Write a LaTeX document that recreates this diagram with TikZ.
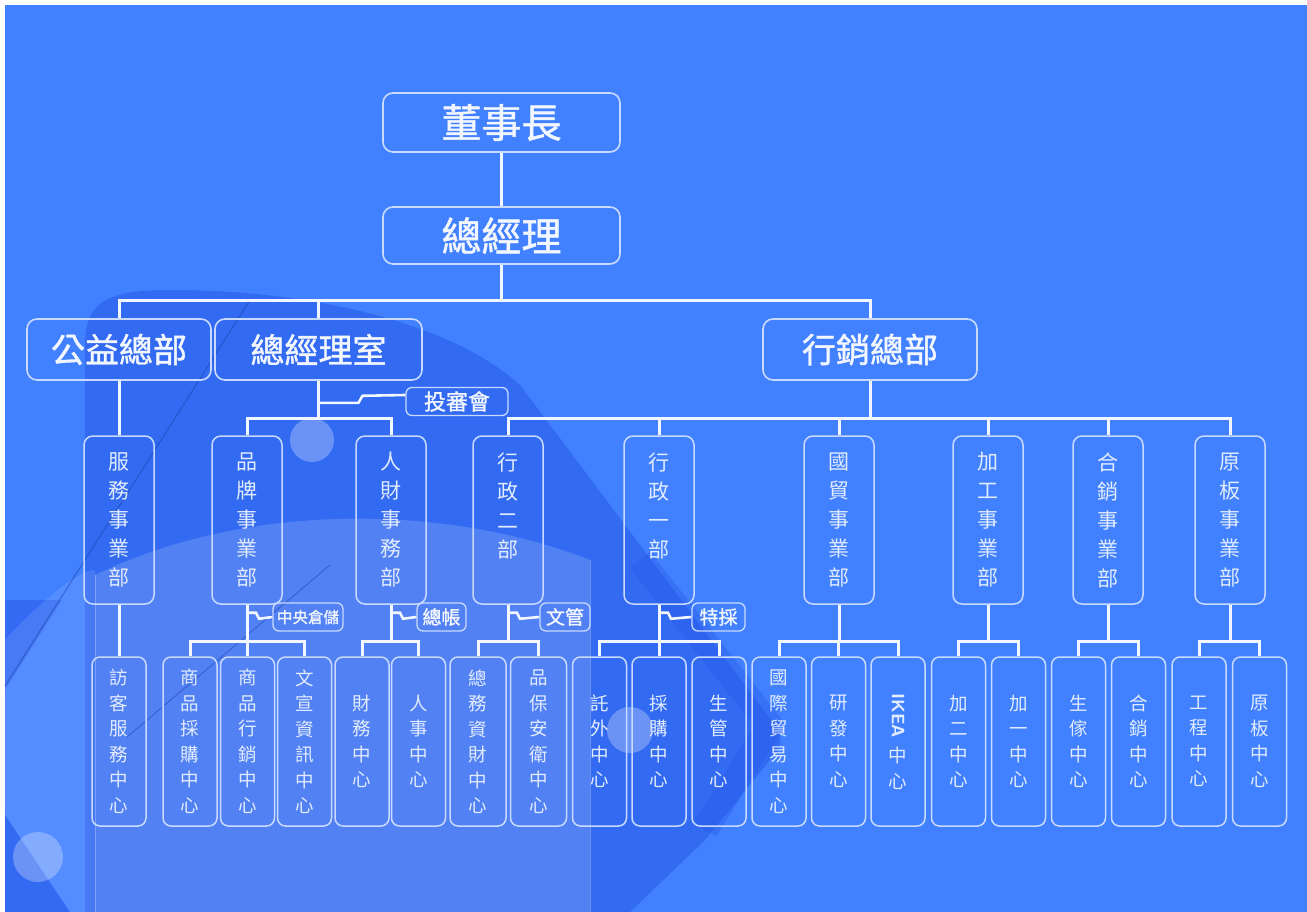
\documentclass[tikz,border=0pt]{standalone}
\usepackage{fontspec}
\newfontfamily\cjk{Noto Sans CJK TC}
\newfontfamily\cjkb[FakeBold=1.2]{Noto Sans CJK TC}
\usetikzlibrary{calc}
\definecolor{bgblue}{RGB}{65,129,255}
\definecolor{darkband}{RGB}{38,88,232}
\definecolor{boxline}{RGB}{200,218,255}
\definecolor{conncol}{RGB}{242,246,255}
\definecolor{txt}{RGB}{242,246,255}
\definecolor{vtxt}{RGB}{226,236,255}
\begin{document}
\begin{tikzpicture}[x=1pt,y=-1pt,
  topbox/.style={draw=boxline, line width=1.6pt, rounded corners=10pt, text=txt, inner sep=0pt, font=\cjkb\fontsize{34}{34}\selectfont},
  lvthree/.style={draw=boxline, line width=1.5pt, rounded corners=9pt, minimum width=70pt, minimum height=168pt, inner sep=0pt, text=vtxt, align=center, font=\cjk\fontsize{21}{29}\selectfont},
  lvfour/.style={draw=boxline, line width=1.5pt, rounded corners=8pt, minimum width=54pt, minimum height=169pt, inner sep=0pt, text=vtxt, align=center, font=\cjk\fontsize{18.5}{25.5}\selectfont},
  tag/.style={draw=boxline, line width=1.3pt, rounded corners=6pt, minimum height=28pt, inner sep=0pt, text=txt, font=\cjkb\fontsize{19}{19}\selectfont},
  conn/.style={draw=conncol, line width=3pt},
  hook/.style={draw=conncol, line width=2.6pt},
  deco/.style={fill=white, fill opacity=0.28}
]
\useasboundingbox (0,0) rectangle (1307,912);
% background
\fill[white] (0,0) rectangle (1307,912);
\fill[bgblue] (5,5) rectangle (1307,912);
% dark swoosh
\fill[darkband, fill opacity=0.55] (85,912) -- (85,345) .. controls (85,300) and (110,290) .. (170,290)
  .. controls (330,290) and (460,330) .. (520,385) -- (775,725) .. controls (785,740) and (780,750) .. (770,760)
  -- (705,840) -- (630,912) -- cycle;
\draw[darkband, line width=26pt, opacity=0.35, line join=round] (640,560) -- (770,725) -- (705,830);
\fill[darkband, fill opacity=0.5] (5,600) -- (62,600) -- (5,690) -- cycle;
\fill[darkband, fill opacity=0.55] (5,815) -- (70,912) -- (5,912) -- cycle;
% light panel
\fill[white, fill opacity=0.16] (95,912) -- (95,575) .. controls (250,500) and (450,505) .. (590,560) -- (590,912) -- cycle;
\fill[white, fill opacity=0.10] (5,640) .. controls (60,580) and (100,560) .. (95,575) -- (95,912) -- (70,912) -- (5,815) -- cycle;
% thin lines
\draw[darkband!70!black, line width=1pt, opacity=0.5] (5,686) -- (250,300);
\draw[darkband!70!black, line width=1pt, opacity=0.45] (127,737) -- (330,565);
\draw[white, line width=0.8pt, opacity=0.25] (95,575) -- (95,912);
\draw[white, line width=0.8pt, opacity=0.25] (590,560) -- (590,912);
% circles
\fill[deco] (312,440) circle (22);
\fill[deco] (630,730) circle (23);
\fill[deco] (38,857) circle (25);

% top levels
\node[topbox, minimum width=237pt, minimum height=59pt, font=\cjkb\fontsize{40}{40}\selectfont] (ds) at (501.5,122.5) {董事長};
\node[topbox, minimum width=237pt, minimum height=57pt, font=\cjkb\fontsize{40}{40}\selectfont] (gm) at (501.5,235.5) {總經理};
\node[topbox, minimum width=184pt, minimum height=61pt] (gy) at (119,349.5) {公益總部};
\node[topbox, minimum width=207pt, minimum height=61pt] (zs) at (318.5,349.5) {總經理室};
\node[topbox, minimum width=214pt, minimum height=61pt] (xx) at (870,349.5) {行銷總部};
\node[tag, minimum width=102pt, font=\cjkb\fontsize{22}{22}\selectfont] (tsh) at (457,401.5) {投審會};

% level 3
\node[lvthree] (fw) at (119,520) {服\\務\\事\\業\\部};
\node[lvthree] (pp) at (247,520) {品\\牌\\事\\業\\部};
\node[lvthree] (rc) at (391,520) {人\\財\\事\\務\\部};
\node[lvthree] (xz2) at (508,520) {行\\政\\二\\部\\\phantom{部}};
\node[lvthree] (xz1) at (659,520) {行\\政\\一\\部\\\phantom{部}};
\node[lvthree] (gm3) at (839,520) {國\\貿\\事\\業\\部};
\node[lvthree] (jg) at (988,520) {加\\工\\事\\業\\部};
\node[lvthree] (hx) at (1108,520) {合\\銷\\事\\業\\部};
\node[lvthree] (yb) at (1230,520) {原\\板\\事\\業\\部};

% tags
\node[tag, minimum width=70pt, font=\cjkb\fontsize{15.5}{15.5}\selectfont] (zy) at (308,617) {中央倉儲};
\node[tag, minimum width=49pt] (zz) at (441.5,617) {總帳};
\node[tag, minimum width=50pt] (wg) at (565,617) {文管};
\node[tag, minimum width=53pt] (tc) at (718.5,617) {特採};

% level 4
\node[lvfour] (fk) at (119,741.5) {訪\\客\\服\\務\\中\\心};
\node[lvfour] (sc) at (190,741.5) {商\\品\\採\\購\\中\\心};
\node[lvfour] (sx) at (247.5,741.5) {商\\品\\行\\銷\\中\\心};
\node[lvfour] (wx) at (304.5,741.5) {文\\宣\\資\\訊\\中\\心};
\node[lvfour] (cw) at (362,741.5) {財\\務\\中\\心};
\node[lvfour] (rs) at (418.5,741.5) {人\\事\\中\\心};
\node[lvfour, minimum width=56pt] (zw) at (478,741.5) {總\\務\\資\\財\\中\\心};
\node[lvfour, minimum width=56pt] (pb) at (538.5,741.5) {品\\保\\安\\衛\\中\\心};
\node[lvfour] (tw) at (599.5,741.5) {託\\外\\中\\心};
\node[lvfour] (cg) at (659,741.5) {採\\購\\中\\心};
\node[lvfour] (sg) at (719,741.5) {生\\管\\中\\心};
\node[lvfour] (gj) at (779,741.5) {國\\際\\貿\\易\\中\\心};
\node[lvfour] (yf) at (838.5,741.5) {研\\發\\中\\心};
\node[lvfour] (ik) at (898,741.5) {\rotatebox[origin=c]{-90}{\sffamily\bfseries\fontsize{18}{18}\selectfont IKEA}\\[8pt]中\\心};
\node[lvfour] (j2) at (958.5,741.5) {加\\二\\中\\心};
\node[lvfour] (j1) at (1018.5,741.5) {加\\一\\中\\心};
\node[lvfour] (sj) at (1078.5,741.5) {生\\傢\\中\\心};
\node[lvfour] (hxz) at (1138.5,741.5) {合\\銷\\中\\心};
\node[lvfour] (gc) at (1199,741.5) {工\\程\\中\\心};
\node[lvfour] (yz) at (1259.5,741.5) {原\\板\\中\\心};

% connectors level 1-2
\draw[conn] (ds) -- (gm);
\draw[conn] (gm.south) -- ++(0,36) -| (gy.north);
\draw[conn] (gm.south) -- ++(0,36) -| (zs.north);
\draw[conn] (gm.south) -- ++(0,36) -| (xx.north);
% level 2-3
\draw[conn] (gy.south) -- (fw.north);
\draw[conn] (zs.south) -- ++(0,38) -| (pp.north);
\draw[conn] (zs.south) -- ++(0,38) -| (rc.north);
\draw[hook] ($(zs.south)+(0,22)$) -- ++(40,0) -- ++(4,-7) -- ($(tsh.west)+(0,-6.5)$);
\foreach \c in {xz2,xz1,gm3,jg,hx,yb}{
  \draw[conn] (xx.south) -- ++(0,38) -| (\c.north);
}
% level 3-4
\draw[conn] (fw.south) -- (fk.north);
\foreach \c in {sc,sx,wx}{\draw[conn] (pp.south) -- ++(0,37) -| (\c.north);}
\foreach \c in {cw,rs}{\draw[conn] (rc.south) -- ++(0,37) -| (\c.north);}
\foreach \c in {zw,pb}{\draw[conn] (xz2.south) -- ++(0,37) -| (\c.north);}
\foreach \c in {tw,cg,sg}{\draw[conn] (xz1.south) -- ++(0,37) -| (\c.north);}
\foreach \c in {gj,yf,ik}{\draw[conn] (gm3.south) -- ++(0,37) -| (\c.north);}
\foreach \c in {j2,j1}{\draw[conn] (jg.south) -- ++(0,37) -| (\c.north);}
\foreach \c in {sj,hxz}{\draw[conn] (hx.south) -- ++(0,37) -| (\c.north);}
\foreach \c in {gc,yz}{\draw[conn] (yb.south) -- ++(0,37) -| (\c.north);}
% tag hooks
\draw[hook] ($(pp.south)+(0,8)$) -- ++(9,0) -- ++(3,6) -- (zy.west);
\draw[hook] ($(rc.south)+(0,8)$) -- ++(9,0) -- ++(3,6) -- (zz.west);
\draw[hook] ($(xz2.south)+(0,8)$) -- ++(9,0) -- ++(3,6) -- (wg.west);
\draw[hook] ($(xz1.south)+(0,8)$) -- ++(9,0) -- ++(3,6) -- (tc.west);
\end{tikzpicture}
\end{document}
